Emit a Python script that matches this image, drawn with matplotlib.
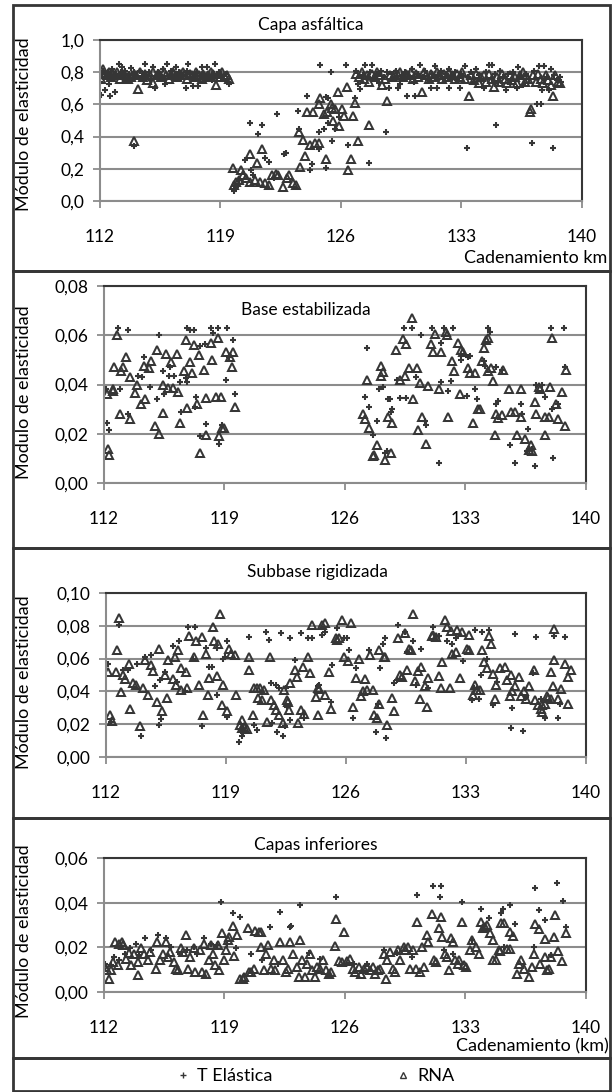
import matplotlib
matplotlib.use("Agg")
import matplotlib.pyplot as plt
from matplotlib.patches import Rectangle
from matplotlib.lines import Line2D

plt.rcParams['font.family'] = ['Lato', 'DejaVu Sans']

# ---- data (km, module) ----
km_ticks = [112, 119, 126, 133, 140]
km_labels = ['112', '119', '126', '133', '140']

asf_te = [
    (112.0, .74), (112.06, .66), (112.1, .79), (112.2, .81), (112.3, .69), (112.35, .77), (112.45, .80), (112.5, .725),
    (112.55, .78), (112.6, .65), (112.7, .82), (112.8, .76), (112.9, .68), (112.95, .79), (113.05, .77), (113.1, .85),
    (113.2, .80), (113.3, .83), (113.35, .78), (113.45, .81), (113.6, .76), (113.7, .79), (113.8, .825), (113.9, .78),
    (114.0, .34), (114.0, .80), (114.15, .77), (114.3, .81), (114.45, .76), (114.55, .79), (114.6, .85), (114.7, .78),
    (114.85, .80), (114.95, .75), (115.1, .83), (115.2, .70), (115.25, .77), (115.35, .80), (115.5, .78), (115.65, .82),
    (115.75, .76), (115.8, .725), (115.9, .85), (116.05, .78), (116.15, .81), (116.3, .77), (116.4, .83), (116.45, .79),
    (116.6, .80), (116.7, .76), (116.85, .78), (117.0, .70), (117.05, .81), (117.1, .85), (117.25, .79), (117.4, .715),
    (117.5, .78), (117.65, .80), (117.7, .715), (117.8, .76), (117.9, .83), (118.0, .79), (118.1, .77), (118.2, .83),
    (118.35, .78), (118.5, .75), (118.6, .79), (118.7, .85), (118.8, .77), (118.9, .80), (119.0, .78), (119.15, .76),
    (119.3, .79), (119.45, .74), (119.5, .725),
    (119.8, .06), (119.9, .09), (120.1, .13), (120.45, .255), (120.7, .485), (120.75, .19), (120.9, .16), (121.2, .415),
    (121.4, .47), (121.6, .265), (121.8, .245), (122.1, .14), (122.3, .54), (122.7, .29), (122.8, .30), (123.5, .56),
    (123.55, .45), (124.0, .655), (124.2, .195), (124.3, .23), (124.7, .43), (124.7, .32), (124.8, .845), (125.0, .445),
    (125.1, .205), (125.1, .645), (125.25, .64), (125.25, .485), (125.4, .80), (125.5, .37), (125.65, .445), (125.9, .52),
    (126.3, .845), (126.4, .35), (126.8, .64), (127.6, .235),
    (126.85, .81), (127.0, .725), (127.1, .695), (127.25, .78), (127.4, .845), (127.55, .77), (127.7, .80), (127.8, .845),
    (127.95, .76), (128.1, .79), (128.2, .73), (128.35, .81), (128.5, .77), (128.6, .43), (128.65, .80), (128.8, .70),
    (128.95, .79), (129.1, .76), (129.2, .81), (129.3, .70), (129.45, .725), (129.55, .78), (129.7, .80), (129.85, .65),
    (129.95, .77), (130.1, .82), (130.25, .74), (130.3, .65), (130.45, .79), (130.6, .845), (130.75, .77), (130.9, .81),
    (131.05, .75), (131.2, .70), (131.3, .79), (131.45, .84), (131.55, .70), (131.65, .78), (131.8, .81), (131.95, .76),
    (132.1, .79), (132.25, .82), (132.3, .70), (132.45, .77), (132.6, .80), (132.75, .75), (132.9, .70), (133.0, .79),
    (133.2, .84), (133.3, .33), (133.4, .77), (133.55, .80), (133.7, .74), (133.85, .82), (134.0, .78), (134.15, .75),
    (134.3, .70), (134.4, .80), (134.6, .845), (134.75, .76), (134.8, .845), (134.95, .79), (135.0, .47), (135.1, .74),
    (135.25, .81), (135.4, .77), (135.6, .69), (135.7, .79), (135.85, .75), (136.0, .80), (136.2, .70), (136.3, .83),
    (136.45, .77), (136.6, .72), (136.75, .79), (136.9, .76), (137.1, .36), (137.2, .81), (137.4, .60), (137.5, .84),
    (137.6, .60), (137.65, .69), (137.8, .84), (137.95, .77), (138.1, .69), (138.2, .82), (138.3, .33), (138.4, .78),
    (138.55, .75), (138.7, .77), (138.8, .74),
]
asf_rna = [
    (112.05, .76), (112.15, .82), (112.3, .79), (112.4, .78), (112.5, .80), (112.65, .77), (112.75, .79), (112.9, .78),
    (113.0, .80), (113.15, .76), (113.25, .78), (113.4, .79), (113.55, .77), (113.65, .76), (113.8, .77), (113.95, .79),
    (114.0, .37), (114.1, .78), (114.2, .695), (114.35, .80), (114.5, .77), (114.6, .79), (114.75, .75), (114.9, .78),
    (115.05, .80), (115.1, .735), (115.3, .78), (115.45, .79), (115.55, .77), (115.7, .80), (115.85, .78), (116.0, .76),
    (116.1, .79), (116.25, .80), (116.4, .78), (116.5, .77), (116.65, .79), (116.8, .80), (116.9, .78), (117.05, .76),
    (117.2, .79), (117.35, .78), (117.5, .77), (117.6, .80), (117.75, .78), (117.9, .76), (118.0, .79), (118.15, .77),
    (118.3, .78), (118.45, .80), (118.55, .79), (118.75, .72), (118.85, .77), (119.0, .79), (119.1, .80), (119.25, .77),
    (119.35, .78), (119.5, .76),
    (119.7, .204), (119.8, .10), (119.9, .12), (120.1, .13), (120.2, .19), (120.3, .16), (120.5, .14), (120.7, .29),
    (120.7, .12), (121.0, .13), (121.1, .235), (121.3, .12), (121.4, .32), (121.6, .11), (121.8, .10), (122.0, .16),
    (122.2, .17), (122.35, .16), (122.65, .09), (122.85, .14), (123.0, .16), (123.2, .11), (123.4, .10), (123.55, .43),
    (123.6, .21), (123.8, .38), (123.9, .28), (124.0, .55), (124.2, .35), (124.4, .555), (124.5, .36), (124.7, .36),
    (124.7, .60), (124.8, .64), (125.0, .54), (125.1, .26), (125.2, .555), (125.4, .60), (125.45, .58), (125.55, .50),
    (125.65, .57), (125.85, .68), (125.9, .465), (126.05, .57), (126.2, .53), (126.35, .71), (126.4, .19), (126.6, .26),
    (126.7, .53), (126.8, .61), (127.0, .375), (127.6, .47),
    (126.9, .79), (127.05, .77), (127.2, .80), (127.35, .76), (127.5, .78), (127.65, .74), (127.8, .79), (127.95, .77),
    (128.1, .80), (128.25, .78), (128.4, .72), (128.55, .76), (128.7, .62), (128.85, .78), (129.0, .77), (129.15, .79),
    (129.3, .78), (129.45, .80), (129.6, .77), (129.75, .79), (129.9, .78), (130.05, .80), (130.2, .76), (130.35, .79),
    (130.5, .77), (130.7, .68), (130.8, .80), (130.95, .78), (131.1, .76), (131.25, .79), (131.4, .77), (131.55, .80),
    (131.7, .78), (131.85, .76), (132.0, .79), (132.15, .77), (132.3, .80), (132.45, .78), (132.6, .76), (132.75, .79),
    (132.9, .77), (133.05, .80), (133.2, .76), (133.45, .65), (133.55, .78), (133.7, .75), (133.85, .79), (134.0, .73),
    (134.15, .77), (134.3, .78), (134.45, .74), (134.6, .79), (134.75, .76), (134.9, .71), (135.05, .77), (135.2, .74),
    (135.35, .79), (135.5, .76), (135.65, .73), (135.8, .78), (135.95, .75), (136.1, .77), (136.25, .73), (136.4, .78),
    (136.55, .80), (136.7, .74), (136.85, .76), (137.0, .55), (137.05, .57), (137.15, .78), (137.3, .74), (137.45, .79),
    (137.6, .76), (137.75, .73), (137.9, .78), (138.05, .75), (138.2, .72), (138.3, .65), (138.45, .78), (138.6, .74),
    (138.75, .73),
]

base_te = [
    (112.1, .038), (112.2, .0245), (112.3, .0215), (112.8, .063), (112.95, .038), (113.4, .062), (113.4, .028),
    (114.0, .0435), (114.2, .043), (114.3, .051), (114.65, .039), (115.1, .034), (115.2, .060), (115.4, .0455),
    (115.5, .036), (115.75, .0435), (115.85, .047), (116.05, .0435), (116.4, .041), (116.45, .029), (116.75, .0425),
    (116.8, .063), (116.85, .041), (117.0, .062), (117.25, .062), (117.3, .031), (117.35, .035), (117.55, .019),
    (117.6, .0555), (117.85, .0565), (117.9, .024), (118.2, .063), (118.35, .061), (118.6, .063), (118.7, .016),
    (118.85, .0235), (119.1, .042), (119.15, .063), (119.25, .051), (119.5, .058), (119.6, .036),
    (127.15, .035), (127.3, .055), (127.4, .031), (127.65, .0195), (127.85, .025), (127.95, .038), (128.2, .039),
    (128.35, .012), (128.45, .013), (128.5, .034), (128.6, .034), (128.65, .029), (128.75, .030), (129.0, .042),
    (129.2, .0345), (129.4, .063), (129.55, .0345), (129.9, .063), (130.15, .043), (130.4, .060), (130.65, .025),
    (130.7, .0235), (131.05, .063), (131.45, .008), (131.55, .057), (131.6, .041), (131.75, .063), (132.0, .0375),
    (132.15, .0415), (132.3, .063), (132.75, .050), (133.1, .0355), (133.15, .051), (133.25, .0515), (133.55, .038),
    (133.65, .034), (134.1, .0495), (134.15, .0475), (134.3, .063), (134.4, .0615), (134.75, .047), (134.8, .032),
    (134.9, .0335), (135.1, .046), (135.6, .0155), (135.9, .008), (136.2, .032), (136.3, .028), (136.6, .013),
    (136.65, .022), (136.85, .014), (137.05, .007), (137.1, .040), (137.45, .040), (137.6, .035), (137.95, .063),
    (138.0, .030), (138.1, .010), (138.35, .032), (138.75, .063), (138.8, .047),
]
base_rna = [
    (112.15, .036), (112.25, .014), (112.3, .0115), (112.5, .038), (112.55, .0375), (112.6, .047), (112.75, .060),
    (112.95, .028), (113.0, .0455), (113.1, .047), (113.3, .051), (113.5, .026), (113.5, .043), (113.8, .0365),
    (113.9, .040), (114.15, .032), (114.3, .0475), (114.4, .034), (114.6, .0465), (114.75, .0495), (114.95, .023),
    (115.1, .054), (115.2, .020), (115.4, .0285), (115.45, .040), (115.6, .0525), (115.7, .0385), (115.9, .049),
    (116.0, .0385), (116.25, .0525), (116.3, .037), (116.4, .0245), (116.65, .0455), (116.75, .058), (116.85, .0305),
    (117.0, .049), (117.1, .0445), (117.2, .056), (117.4, .032), (117.5, .052), (117.55, .012), (117.8, .046),
    (117.9, .0195), (117.95, .0345), (118.2, .057), (118.3, .050), (118.5, .035), (118.6, .059), (118.7, .019),
    (118.8, .035), (118.85, .0225), (119.0, .0225), (119.1, .053), (119.3, .051), (119.45, .047), (119.5, .053),
    (119.6, .031),
    (127.05, .028), (127.15, .026), (127.3, .042), (127.4, .0225), (127.6, .011), (127.7, .0115), (127.85, .0155),
    (128.1, .0475), (128.1, .0435), (128.2, .045), (128.3, .0095), (128.5, .027), (128.7, .012), (128.75, .0245),
    (128.95, .054), (129.2, .042), (129.35, .0585), (129.5, .0435), (129.55, .0565), (129.7, .0465), (129.9, .067),
    (129.95, .034), (130.2, .0465), (130.25, .0215), (130.35, .0405), (130.5, .027), (130.7, .016), (130.8, .0395),
    (131.0, .0565), (131.1, .053), (131.2, .0605), (131.45, .038), (131.6, .053), (131.85, .0615), (131.95, .060),
    (132.0, .027), (132.2, .0495), (132.35, .0455), (132.55, .057), (132.7, .036), (132.75, .054), (132.85, .053),
    (133.15, .0465), (133.25, .0445), (133.45, .0245), (133.55, .0445), (133.7, .030), (133.85, .030), (133.95, .0495),
    (134.05, .055), (134.2, .058), (134.3, .059), (134.3, .0455), (134.5, .0465), (134.6, .0415), (134.7, .0195),
    (134.75, .028), (134.9, .0265), (135.1, .0277), (135.15, .046), (135.5, .038), (135.65, .029), (135.9, .029),
    (136.0, .0196), (136.2, .038), (136.2, .027), (136.45, .018), (136.7, .0135), (136.8, .0155), (136.85, .013),
    (137.05, .033), (137.1, .028), (137.25, .039), (137.35, .038), (137.6, .0196), (137.6, .027), (137.85, .027),
    (137.9, .039), (138.05, .059), (138.25, .032), (138.35, .026), (138.6, .037), (138.8, .023), (138.85, .046),
]

sub_te = [
    (112.1, .057), (112.3, .0215), (112.75, .0805), (113.0, .053), (113.3, .053), (113.8, .057), (114.05, .013),
    (114.3, .061), (114.65, .062), (114.85, .043), (115.1, .0198), (115.15, .047), (115.2, .023), (115.45, .052),
    (115.9, .0675), (116.15, .046), (116.25, .0705), (116.6, .040), (116.8, .0795), (117.1, .060), (117.2, .0795),
    (117.6, .019), (117.85, .0665), (118.0, .055), (118.2, .055), (118.45, .038), (118.45, .0665), (118.8, .060),
    (118.95, .061), (119.05, .0705), (119.05, .0245), (119.75, .009), (119.95, .013), (120.0, .0145), (120.35, .073),
    (120.65, .0198), (120.8, .0165), (121.35, .0765), (121.5, .0715), (121.6, .045), (121.7, .0205), (121.9, .044),
    (121.95, .0153), (122.1, .042), (122.2, .0755), (122.3, .013), (122.45, .019), (122.5, .042), (122.55, .0305),
    (122.75, .0725), (122.75, .0225), (123.05, .059), (123.35, .0755), (123.55, .0235), (123.8, .0725), (124.0, .0725),
    (124.35, .043), (124.45, .044), (124.6, .0745), (124.8, .0765), (125.1, .0335), (125.2, .056), (125.5, .0785),
    (125.9, .0725), (126.05, .0725), (126.2, .065), (126.4, .024), (126.6, .054), (127.35, .065), (127.75, .015),
    (127.85, .0325), (128.0, .054), (128.15, .069), (128.25, .0725), (128.35, .0115), (128.8, .045), (128.95, .047),
    (129.05, .0805), (129.45, .0765), (129.55, .064), (129.9, .0705), (130.1, .044), (130.4, .066), (130.8, .042),
    (131.1, .0795), (131.4, .074), (131.9, .0705), (132.2, .069), (132.4, .0725), (132.8, .0585), (133.35, .0345),
    (133.45, .042), (133.5, .0775), (133.75, .0355), (133.85, .050), (133.95, .0765), (134.25, .060), (134.35, .0775),
    (134.6, .0315), (134.8, .046), (135.6, .0175), (135.7, .030), (135.85, .075), (136.3, .016), (136.5, .0365),
    (136.9, .051), (137.1, .073), (137.35, .0355), (137.6, .024), (138.15, .074), (138.35, .024), (138.5, .0325),
    (138.8, .073),
]
sub_rna = [
    (112.1, .052), (112.25, .0255), (112.35, .022), (112.6, .052), (112.65, .065), (112.75, .085), (112.9, .0395),
    (113.0, .050), (113.1, .0475), (113.35, .057), (113.4, .0295), (113.55, .045), (113.75, .044), (114.0, .019),
    (114.15, .042), (114.3, .059), (114.45, .038), (114.65, .056), (114.75, .0525), (115.0, .0335), (115.1, .066),
    (115.25, .028), (115.45, .050), (115.55, .036), (115.6, .059), (115.9, .0475), (116.0, .061), (116.1, .044),
    (116.2, .065), (116.35, .054), (116.4, .041), (116.65, .052), (116.75, .042), (116.85, .0735), (117.15, .061),
    (117.25, .0705), (117.4, .044), (117.6, .073), (117.65, .0255), (117.85, .063), (117.95, .038), (118.0, .048),
    (118.25, .079), (118.3, .0705), (118.45, .0495), (118.55, .069), (118.65, .087), (118.75, .0315), (118.8, .044),
    (119.05, .028), (119.15, .066), (119.3, .063), (119.5, .062), (119.6, .038), (119.8, .0195), (119.95, .0175),
    (119.95, .0225), (120.05, .018), (120.2, .017), (120.35, .061), (120.35, .053), (120.55, .0255), (120.65, .042),
    (120.8, .042), (120.85, .036), (121.0, .042), (121.1, .035), (121.2, .041), (121.4, .0215), (121.55, .061),
    (121.6, .035), (121.8, .0315), (121.9, .0285), (122.1, .0255), (122.3, .0205), (122.4, .041), (122.55, .0345),
    (122.6, .0335), (122.65, .0285), (122.75, .045), (123.0, .053), (123.15, .049), (123.2, .0205), (123.35, .0285),
    (123.5, .055), (123.55, .0265), (123.8, .061), (123.9, .051), (124.0, .0805), (124.25, .0365), (124.35, .042),
    (124.35, .0255), (124.4, .0415), (124.6, .0805), (124.75, .038), (124.8, .0815), (125.0, .052), (125.1, .0295),
    (125.4, .0725), (125.5, .0715), (125.6, .0725), (125.75, .0835), (125.9, .061), (126.1, .0585), (126.3, .082),
    (126.4, .0305), (126.6, .048), (126.75, .060), (126.9, .0375), (127.0, .040), (127.1, .0475), (127.2, .041),
    (127.4, .0625), (127.55, .041), (127.65, .0255), (127.8, .0235), (127.9, .0325), (127.95, .065), (128.2, .061),
    (128.3, .061), (128.4, .0195), (128.7, .036), (128.8, .028), (129.05, .0725), (129.15, .050), (129.25, .049),
    (129.45, .0755), (129.55, .053), (129.7, .066), (129.8, .065), (129.9, .0875), (130.0, .0465), (130.2, .0525),
    (130.3, .0355), (130.4, .055), (130.6, .0435), (130.7, .0305), (130.8, .048), (131.0, .0735), (131.1, .0745),
    (131.25, .073), (131.4, .0495), (131.55, .042), (131.6, .058), (131.8, .0835), (131.9, .0795), (132.05, .042),
    (132.1, .077), (132.2, .063), (132.4, .064), (132.5, .0775), (132.65, .048), (132.75, .0765), (133.05, .066),
    (133.15, .0745), (133.2, .065), (133.4, .038), (133.55, .044), (133.65, .041), (133.8, .041), (133.95, .065),
    (134.05, .058), (134.2, .054), (134.35, .0735), (134.45, .069), (134.6, .0505), (134.7, .0355), (134.75, .044),
    (135.0, .0545), (135.25, .055), (135.4, .047), (135.55, .037), (135.6, .050), (135.7, .040), (135.85, .043),
    (136.1, .049), (136.2, .0375), (136.4, .040), (136.5, .0355), (136.65, .0435), (136.95, .053), (137.05, .0345),
    (137.2, .0315), (137.35, .0295), (137.45, .0275), (137.45, .0315), (137.6, .0325), (137.7, .0375), (137.8, .036),
    (137.95, .052), (137.95, .0355), (138.05, .0435), (138.15, .059), (138.15, .078), (138.35, .0355), (138.55, .0415),
    (138.8, .057), (138.95, .049), (138.95, .0325), (139.1, .053),
]

inf_te = [
    (112.05, .0127), (112.4, .012), (112.6, .0157), (112.9, .0142), (113.2, .0172), (113.5, .0195), (113.85, .0217),
    (114.05, .0165), (114.4, .024), (114.75, .0187), (115.15, .0255), (115.6, .024), (115.9, .0202), (116.4, .0172),
    (116.8, .0187), (117.2, .0202), (117.4, .0172), (117.8, .024), (118.2, .0217), (118.55, .021), (118.8, .0405),
    (119.15, .0217), (119.5, .0355), (119.65, .0195), (119.9, .0334), (120.55, .0172), (121.2, .0142), (121.65, .0292),
    (122.1, .0127), (122.25, .036), (122.8, .0292), (122.85, .0295), (123.4, .039), (123.9, .0175), (124.55, .015),
    (125.5, .0427), (126.5, .0127), (127.25, .0127), (128.25, .0187), (129.0, .0175), (129.9, .0157), (130.2, .0435),
    (131.1, .0476), (131.5, .0427), (131.6, .0476), (131.75, .0187), (132.3, .0172), (132.8, .0405), (133.4, .0235),
    (133.9, .037), (134.35, .033), (135.05, .0355), (135.2, .0373), (135.25, .020), (135.6, .039), (135.9, .0306),
    (137.0, .020), (137.05, .0467), (137.25, .0366), (137.6, .0321), (137.95, .0164), (138.3, .049), (138.65, .0406),
    (138.85, .0291),
]
inf_rna = [
    (112.05, .011), (112.2, .0097), (112.3, .006), (112.4, .0097), (112.55, .0135), (112.65, .0225), (112.8, .012),
    (112.9, .0217), (113.05, .0225), (113.1, .021), (113.3, .015), (113.45, .0175), (113.55, .012), (113.75, .0172),
    (113.95, .0075), (114.0, .0135), (114.15, .0195), (114.35, .0172), (114.55, .0142), (114.65, .018), (115.0, .0105),
    (115.1, .0225), (115.25, .0145), (115.45, .0172), (115.6, .0225), (115.7, .0157), (115.85, .018), (116.05, .0135),
    (116.2, .0105), (116.3, .0097), (116.5, .0195), (116.6, .018), (116.75, .0255), (116.9, .0105), (117.0, .0157),
    (117.2, .0195), (117.3, .009), (117.55, .0187), (117.7, .009), (117.8, .0217), (117.95, .0082), (118.1, .0142),
    (118.2, .021), (118.35, .0172), (118.45, .012), (118.6, .021), (118.7, .0097), (118.85, .0262), (119.0, .0142),
    (119.1, .0187), (119.2, .0232), (119.25, .0247), (119.5, .0295), (119.55, .016), (119.75, .0255), (119.9, .006),
    (120.05, .006), (120.15, .0065), (120.35, .0285), (120.45, .009), (120.55, .009), (120.7, .0105), (120.8, .0275),
    (121.0, .027), (121.1, .0267), (121.1, .0202), (121.3, .0097), (121.4, .0172), (121.55, .021), (121.7, .0105),
    (121.85, .0142), (121.95, .0097), (122.2, .0225), (122.4, .0142), (122.55, .009), (122.7, .0105), (122.8, .0225),
    (123.0, .0172), (123.2, .011), (123.3, .0067), (123.4, .0235), (123.5, .0145), (123.65, .0067), (123.8, .0127),
    (123.95, .0172), (124.1, .0097), (124.25, .0067), (124.4, .011), (124.55, .0105), (124.7, .0142), (124.9, .0097),
    (125.05, .0082), (125.2, .009), (125.4, .0205), (125.5, .0325), (125.65, .014), (125.8, .0135), (125.95, .027),
    (126.1, .014), (126.3, .015), (126.45, .0105), (126.6, .009), (126.8, .011), (126.95, .0082), (127.1, .0105),
    (127.25, .011), (127.45, .0097), (127.6, .011), (127.75, .0082), (127.9, .0097), (128.05, .0105), (128.25, .0172),
    (128.4, .006), (128.45, .0145), (128.6, .018), (128.8, .0105), (128.9, .009), (129.05, .0187), (129.2, .0145),
    (129.4, .0202), (129.5, .0187), (129.65, .0202), (129.8, .0105), (129.95, .0187), (130.1, .0105), (130.2, .0315),
    (130.35, .009), (130.5, .020), (130.6, .011), (130.75, .0255), (130.85, .0225), (131.05, .035), (131.15, .0142),
    (131.3, .0135), (131.45, .0285), (131.55, .0337), (131.65, .0247), (131.8, .0172), (131.9, .0157), (132.05, .010),
    (132.15, .024), (132.3, .0225), (132.4, .0142), (132.55, .0127), (132.65, .0142), (132.8, .0315), (132.9, .012),
    (133.05, .011), (133.25, .0187), (133.4, .0232), (133.6, .0202), (133.8, .0172), (133.9, .0315), (134.0, .0285),
    (134.15, .0292), (134.25, .030), (134.45, .0262), (134.6, .0232), (134.6, .0144), (134.75, .0142), (134.95, .0187),
    (135.0, .0185), (135.05, .0307), (135.25, .031), (135.4, .0193), (135.6, .0268), (135.6, .0193), (135.75, .025),
    (136.0, .0082), (136.1, .0127), (136.2, .0142), (136.4, .0104), (136.7, .0067), (136.85, .0112), (137.0, .0172),
    (137.05, .0306), (137.25, .0284), (137.35, .0127), (137.6, .0157), (137.6, .0239), (137.75, .0097), (137.85, .0104),
    (137.95, .0157), (138.15, .0246), (138.2, .0347), (138.35, .0185), (138.6, .0139), (138.85, .0264),
]

asf_yticks = [0.0, 0.2, 0.4, 0.6, 0.8, 1.0]
asf_ylabels = ['0,0', '0,2', '0,4', '0,6', '0,8', '1,0']
base_yticks = [0.0, 0.02, 0.04, 0.06, 0.08]
base_ylabels = ['0,00', '0,02', '0,04', '0,06', '0,08']
sub_yticks = [0.0, 0.02, 0.04, 0.06, 0.08, 0.10]
sub_ylabels = ['0,00', '0,02', '0,04', '0,06', '0,08', '0,10']
inf_yticks = [0.0, 0.02, 0.04, 0.06]
inf_ylabels = ['0,00', '0,02', '0,04', '0,06']

# ---- layout (pixels of the 613x1092 picture) ----
W, H = 613, 1092
DARK = '#363636'
GRID = '#8c8c8c'
FS = 12.5

fig = plt.figure(figsize=(W / 100, H / 100), dpi=100)


def px_axes(left, top, right, bottom):
    return fig.add_axes([left / W, 1 - bottom / H, (right - left) / W, (bottom - top) / H])


def draw_panel(ax, te, rna, yticks, ylabels, ylabel, label_y):
    xs, ys = zip(*te)
    ax.plot(xs, ys, '+', ms=4.3, mew=1.5, color=DARK, label='T Elástica')
    xs, ys = zip(*rna)
    ax.plot(xs, ys, '^', ms=6, mew=1.45, mec=DARK, mfc='none', label='RNA')
    ax.set_xlim(112, 140)
    ax.set_ylim(yticks[0], yticks[-1])
    ax.set_xticks(km_ticks)
    ax.set_xticklabels(km_labels)
    ax.set_yticks(yticks)
    ax.set_yticklabels(ylabels)
    ax.yaxis.grid(True, color=GRID, lw=1.5)
    ax.set_axisbelow(True)
    for s in ['left', 'bottom']:
        ax.spines[s].set_color(GRID)
        ax.spines[s].set_linewidth(1.5)
    for s in ['top', 'right']:
        ax.spines[s].set_color(DARK)
        ax.spines[s].set_linewidth(1.5)
    ax.tick_params(axis='both', direction='out', length=5, width=1.3, color=GRID, labelsize=FS)
    ax.tick_params(axis='x', pad=15)
    ax.tick_params(axis='y', pad=6)
    ax.set_ylabel(ylabel, fontsize=FS + 0.5)
    ax.yaxis.set_label_coords(32 / W, 1 - label_y / H, transform=fig.transFigure)


# panel frames
for top, bottom in [(5, 271), (271, 548), (548, 818), (818, 1058), (1058, 1091)]:
    fig.patches.append(Rectangle((13 / W, 1 - bottom / H), (610 - 13) / W, (bottom - top) / H,
                                 transform=fig.transFigure, fill=False, ec=DARK, lw=2))

ax1 = px_axes(100, 40, 582, 201)
draw_panel(ax1, asf_te, asf_rna, asf_yticks, asf_ylabels, 'Módulo de elasticidad', 124)
fig.text(311 / W, 1 - 25 / H, 'Capa asfáltica', ha='center', va='center', fontsize=FS)
fig.text(607 / W, 1 - 258 / H, 'Cadenamiento km', ha='right', va='center', fontsize=FS + 0.5)

ax2 = px_axes(104, 286, 586, 483)
draw_panel(ax2, base_te, base_rna, base_yticks, base_ylabels, 'Modulo de elasticidad', 392)
fig.text(306 / W, 1 - 310 / H, 'Base estabilizada', ha='center', va='center', fontsize=FS)

ax3 = px_axes(106, 593, 586, 757)
draw_panel(ax3, sub_te, sub_rna, sub_yticks, sub_ylabels, 'Módulo de elasticidad', 682)
fig.text(317 / W, 1 - 572 / H, 'Subbase rigidizada', ha='center', va='center', fontsize=FS)

ax4 = px_axes(104, 858, 586, 992)
draw_panel(ax4, inf_te, inf_rna, inf_yticks, inf_ylabels, 'Módulo de elasticidad', 931)
fig.text(316 / W, 1 - 845 / H, 'Capas inferiores', ha='center', va='center', fontsize=FS)
fig.text(609 / W, 1 - 1046 / H, 'Cadenamiento (km)', ha='right', va='center', fontsize=FS + 0.5)

handles = [Line2D([], [], ls='none', marker='+', ms=4, mew=1.0, color=DARK),
           Line2D([], [], ls='none', marker='^', ms=5, mew=1.0, mec=DARK, mfc='none')]
fig.legend(handles, ['T Elástica', 'RNA'], loc='center', ncol=2, frameon=False,
           bbox_to_anchor=(315 / W, 1 - 1076 / H), fontsize=FS + 0.5,
           handlelength=0.8, handletextpad=0.4, columnspacing=6.8)

fig.savefig('out.png', dpi=100)
